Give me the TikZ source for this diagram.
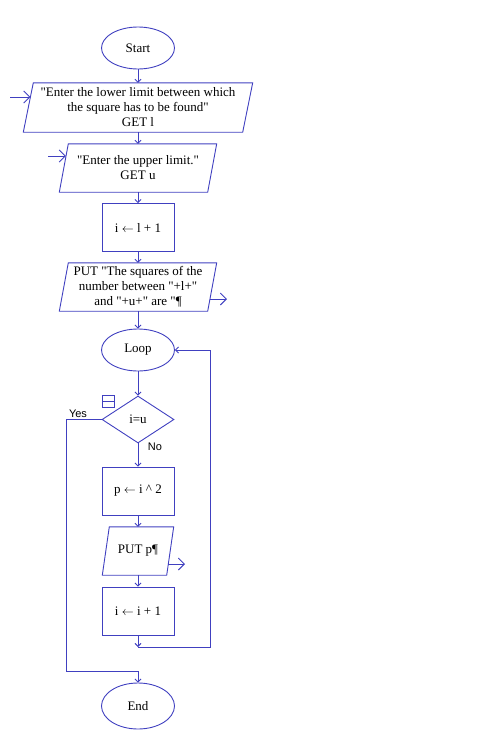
\documentclass[tikz,border=0pt]{standalone}
\usepackage{fontspec}
\setmainfont[Ligatures=TeXOff]{Liberation Serif}
\newfontfamily\labelfont{Liberation Sans}
\usetikzlibrary{shapes.geometric, arrows.meta}
\definecolor{flow}{RGB}{64,64,192}

\begin{document}
\begin{tikzpicture}[x=1pt,y=-1pt,
    every node/.style={font=\fontsize{13}{15}\selectfont,align=center},
    line/.style={draw=flow,line width=0.9pt},
    term/.style={ellipse,line,minimum width=73pt,minimum height=42pt,inner sep=0pt},
    proc/.style={rectangle,line,minimum width=72pt,minimum height=48pt,inner sep=0pt},
    io/.style={rectangle,minimum height=48pt,inner sep=0pt},
    decide/.style={diamond,line,minimum width=72pt,minimum height=47pt,inner sep=0pt},
    flowarrow/.style={line,-{Straight Barb[length=3pt,width=6pt]}},
    ioarrow/.style={line,-{Straight Barb[length=6pt,width=12pt]}},
    tag/.style={font=\labelfont\fontsize{11}{12}\selectfont}]
  \useasboundingbox (0,0) rectangle (480,744);

  % main column
  \node[term] (start) at (138,48) {Start};
  \node[io,minimum width=219pt,minimum height=49pt] (getl) at (138,107.5)
    {"Enter the lower limit between which\\the square has to be found"\\GET l};
  \node[io,minimum width=148pt] (getu) at (138,168) {"Enter the upper limit."\\GET u};
  \node[proc] (init) at (138,227.5) {i $\leftarrow$ l + 1};
  \node[io,minimum width=148pt] (head) at (138,287)
    {PUT "The squares of the\\number between "+l+"\\and "+u+" are "¶};
  \node[term] (loop) at (138,350) {Loop};
  \node[decide] (test) at (138,419.5) {i=u};
  \node[proc] (sq) at (138,491) {p $\leftarrow$ i \textasciicircum\ 2};
  \node[io,minimum width=64pt] (out) at (138,551) {PUT p¶};
  \node[proc] (inc) at (138,611) {i $\leftarrow$ i + 1};
  \node[term,minimum height=46pt] (stop) at (138,706) {End};

  % slanted sides of the input/output boxes
  \foreach \n/\s in {getl/5,getu/4.5,head/4.5,out/3.5}
    \draw[line] ([xshift=\s pt]\n.north west) -- ([xshift=\s pt]\n.north east)
      -- ([xshift=-\s pt]\n.south east) -- ([xshift=-\s pt]\n.south west) -- cycle;

  \node[tag] (yes) at (78,414) {Yes};
  \node[tag] (no) at (155,447) {No};

  % free ends
  \coordinate (getl in) at (10,97);
  \coordinate (getu in) at (48,156);
  \coordinate (head out) at (227,299);
  \coordinate (out out) at (185,564);
  \coordinate (join) at (138,647);
  \coordinate (back) at (210,647);
  \coordinate (yes turn) at (66,671);
  \coordinate (yes join) at (138,671);

  \path[flowarrow] (start) edge (getl)
    (getl) edge (getu)
    (getu) edge (init)
    (init) edge (head)
    (head) edge (loop)
    (loop) edge (test)
    (test) edge (sq)
    (sq) edge (out)
    (out) edge (inc)
    (inc) edge (join);
  \draw[flowarrow] (join) -- (back) |- (loop);
  \draw[flowarrow] (test) -| (yes turn) -- (yes join) -- (stop);

  \draw[ioarrow] (getl in) -- ([xshift=2pt]getl in -| getl.west);
  \draw[ioarrow] (getu in) -- ([xshift=2pt]getu in -| getu.west);
  \draw[ioarrow] ([xshift=-2pt]head out -| head.east) -- (head out);
  \draw[ioarrow] ([xshift=-2pt]out out -| out.east) -- (out out);

  % collapse mark
  \draw[line] (102,395) rectangle (114,407);
  \draw[line] (102,401) -- (114,401);
\end{tikzpicture}
\end{document}
